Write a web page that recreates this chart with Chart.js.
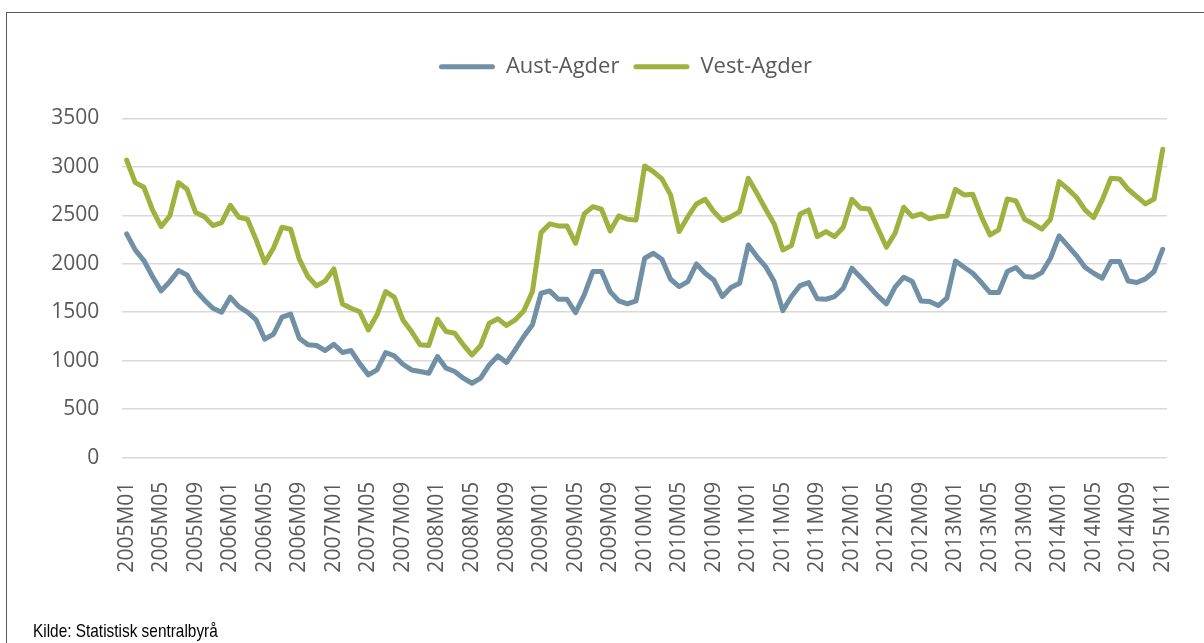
<!DOCTYPE html>
<html>
<head>
<meta charset="utf-8">
<script src="https://cdn.jsdelivr.net/npm/chart.js@4"></script>
<style>
    html, body { margin: 0; padding: 0; background: #fff; overflow: hidden; }
    #wrap { position: relative; width: 1204px; height: 643px; }
    #frame { position: absolute; left: 6px; top: 12px; width: 1300px; height: 700px; border: 1px solid #5a5a5a; }
    #source { position: absolute; left: 33px; top: 620px; font-family: "Liberation Sans", Arial, sans-serif; font-size: 19px; line-height: 22px; color: #000; white-space: nowrap; transform: scaleX(0.81); transform-origin: left top; }
    canvas { position: absolute; left: 0; top: 0; }
</style>
</head>
<body>
<div id="wrap">
    <div id="frame"></div>
    <canvas id="chart" width="1204" height="643"></canvas>
    <div id="source">Kilde: Statistisk sentralbyrå</div>
</div>
<script>
//Series names
const seriesNames = ["Aust-Agder", "Vest-Agder"];

//Months 2005M01 - 2014M12, last point labelled 2015M11
const years = [2005, 2006, 2007, 2008, 2009, 2010, 2011, 2012, 2013, 2014];
const lastMonth = "2015M11";

//Aust-Agder
const austAgder = [
    2308, 2143, 2033, 1868, 1720, 1816, 1930, 1885, 1724, 1627, 1541, 1500,
    1655, 1558, 1500, 1421, 1222, 1273, 1449, 1480, 1232, 1164, 1157, 1105,
    1170, 1085, 1105, 970, 854, 905, 1085, 1050, 964, 905, 889, 871,
    1043, 923, 889, 820, 768, 820, 957, 1050, 981, 1112, 1250, 1370,
    1696, 1720, 1634, 1634, 1497, 1679, 1920, 1920, 1713, 1617, 1586, 1617,
    2057, 2108, 2047, 1840, 1765, 1816, 1998, 1902, 1833, 1662, 1755, 1799,
    2194, 2074, 1971, 1816, 1517, 1662, 1775, 1806, 1638, 1634, 1662, 1748,
    1954, 1861, 1765, 1669, 1586, 1758, 1861, 1816, 1617, 1610, 1569, 1645,
    2029, 1964, 1902, 1806, 1703, 1703, 1920, 1961, 1868, 1861, 1909, 2057,
    2287, 2187, 2084, 1964, 1902, 1851, 2023, 2023, 1823, 1806, 1844, 1920,
    2150
];

//Vest-Agder
const vestAgder = [
    3070, 2837, 2789, 2555, 2383, 2493, 2837, 2768, 2528, 2486, 2394, 2425,
    2603, 2480, 2459, 2246, 2012, 2160, 2376, 2356, 2047, 1868, 1772, 1823,
    1947, 1586, 1541, 1505, 1318, 1473, 1713, 1655, 1421, 1301, 1164, 1157,
    1428, 1301, 1284, 1164, 1057, 1157, 1387, 1432, 1363, 1421, 1514, 1713,
    2321, 2411, 2390, 2390, 2211, 2514, 2589, 2562, 2339, 2493, 2459, 2450,
    3009, 2950, 2875, 2710, 2332, 2486, 2617, 2665, 2538, 2445, 2486, 2538,
    2882, 2727, 2565, 2411, 2143, 2187, 2514, 2555, 2280, 2332, 2280, 2376,
    2665, 2572, 2565, 2366, 2170, 2315, 2583, 2486, 2514, 2462, 2486, 2493,
    2768, 2710, 2717, 2486, 2297, 2349, 2668, 2648, 2459, 2411, 2356, 2459,
    2847, 2772, 2686, 2555, 2476, 2658, 2882, 2875, 2768, 2693, 2617, 2668,
    3180
];

//Y ticks
const yTicks = [0, 500, 1000, 1500, 2000, 2500, 3000, 3500];

//Categories
const months = [];
years.forEach(y => {
    for (let m = 1; m <= 12; m++) {
        months.push(y + "M" + String(m).padStart(2, "0"));
    }
});
months.push(lastMonth);

const textColor = "#595959";
const tickFont = { family: "'Open Sans', sans-serif", size: 21 };

//Legend: extra room below it, and centred like the original frame
const legendSpace = {
    id: "legendSpace",
    beforeInit(chart) {
        const fit = chart.legend.fit;
        chart.legend.fit = function() {
            fit.bind(chart.legend)();
            this.height = 76.6;
        };
    },
    afterLayout(chart) {
        chart.legend.left += 29.6;
        chart.legend.right += 29.6;
    }
};

new Chart(document.querySelector("#chart"), {

    type: "line",

    data: {
        labels: months,
        datasets: [
            {
                label: seriesNames[0],
                data: austAgder,
                borderColor: "#7190a5",
                backgroundColor: "#7190a5",
                borderWidth: 5,
                pointRadius: 0,
                borderJoinStyle: "round",
                borderCapStyle: "round",
                tension: 0
            },
            {
                label: seriesNames[1],
                data: vestAgder,
                borderColor: "#9db23f",
                backgroundColor: "#9db23f",
                borderWidth: 5,
                pointRadius: 0,
                borderJoinStyle: "round",
                borderCapStyle: "round",
                tension: 0
            }
        ]
    },

    options: {
        responsive: false,
        animation: false,
        layout: {
            padding: { top: 41.7, left: 10, right: 22.3, bottom: 0 }
        },
        plugins: {
            legend: {
                position: "top",
                labels: {
                    color: textColor,
                    font: { family: "'Open Sans', sans-serif", size: 22 },
                    boxWidth: 56,
                    boxHeight: 5,
                    padding: 14,
                    useBorderRadius: true,
                    borderRadius: 2.5,
                    generateLabels(chart) {
                        const items = Chart.defaults.plugins.legend.labels.generateLabels(chart);
                        items.forEach(it => {
                            it.lineWidth = 0;
                            it.fillStyle = it.strokeStyle;
                        });
                        return items;
                    }
                }
            },
            tooltip: { enabled: false }
        },
        scales: {
            x: {
                offset: true,
                grid: { display: false },
                border: { display: false },
                afterFit(scale) {
                    scale.height = 185.3;
                },
                ticks: {
                    autoSkip: false,
                    minRotation: 90,
                    maxRotation: 90,
                    padding: 16,
                    color: textColor,
                    font: tickFont,
                    callback(value, index) {
                        return index % 4 === 0 ? months[index] : "";
                    }
                }
            },
            y: {
                min: yTicks[0],
                max: yTicks[yTicks.length - 1],
                afterFit(scale) {
                    scale.width = 112.3;
                },
                afterBuildTicks(scale) {
                    scale.ticks = yTicks.map(v => ({ value: v }));
                },
                grid: {
                    color: "#d9d9d9",
                    lineWidth: 1.5,
                    drawTicks: false
                },
                border: { display: false },
                ticks: {
                    padding: 23,
                    color: textColor,
                    font: tickFont,
                    callback(value) {
                        return String(value);
                    }
                }
            }
        }
    },

    plugins: [legendSpace]

});
</script>
</body>
</html>
